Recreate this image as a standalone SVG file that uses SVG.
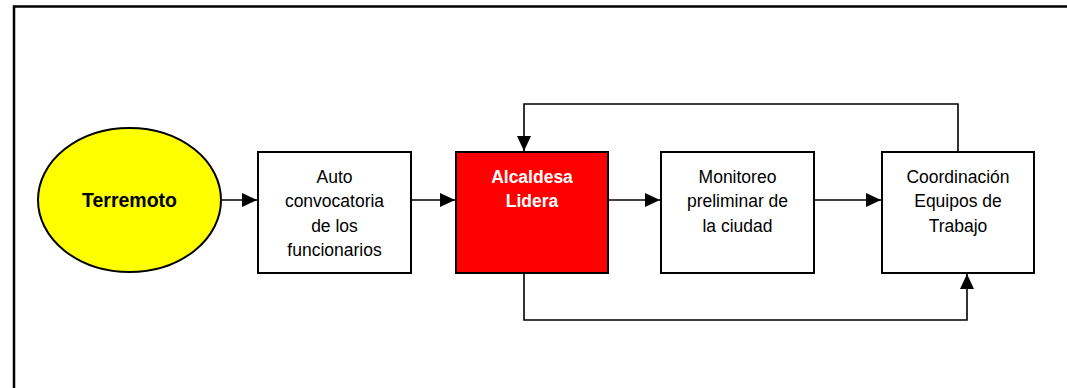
<svg xmlns="http://www.w3.org/2000/svg" width="1067" height="388" viewBox="0 0 1067 388">
<style>
.box{stroke:#000;stroke-width:2;fill:#fff}
.t{font-family:"Liberation Sans",Arial,sans-serif;font-size:17.5px;text-anchor:middle;fill:#000}
.b{font-weight:bold}
.c{fill:none;stroke:#000;stroke-width:1.6}
</style>
<defs>
<marker id="ah" markerUnits="userSpaceOnUse" markerWidth="16" markerHeight="16" viewBox="0 0 16 16" refX="15" refY="8" orient="auto">
<path d="M0,1 L15,8 L0,15 Z" fill="#000"/>
</marker>
</defs>
<rect width="1067" height="388" fill="#fff"/>
<path d="M14,389 V6.5 H1068" fill="none" stroke="#000" stroke-width="2.5"/>
<g id="connectors">
<line class="c" x1="221" y1="200" x2="257" y2="200" marker-end="url(#ah)"/>
<line class="c" x1="411" y1="200" x2="455" y2="200" marker-end="url(#ah)"/>
<line class="c" x1="608" y1="200" x2="660" y2="200" marker-end="url(#ah)"/>
<line class="c" x1="814" y1="200" x2="881" y2="200" marker-end="url(#ah)"/>
<path class="c" d="M958,152 V104 H524 V151" marker-end="url(#ah)"/>
<path class="c" d="M524,273 V320 H967 V274" marker-end="url(#ah)"/>
</g>
<g id="terremoto">
<ellipse cx="129.5" cy="200" rx="91.5" ry="72" fill="#ffff00" stroke="#000" stroke-width="2"/>
<text class="t b" x="129.5" y="207" style="font-size:19.5px">Terremoto</text>
</g>
<g id="auto">
<rect class="box" x="258" y="152" width="153" height="121"/>
<text class="t" x="334.5" y="183">Auto</text>
<text class="t" x="334.5" y="207">convocatoria</text>
<text class="t" x="334.5" y="231.5">de los</text>
<text class="t" x="334.5" y="255.5">funcionarios</text>
</g>
<g id="alcaldesa">
<rect class="box" x="456" y="152" width="152" height="121" style="fill:#ff0000"/>
<text class="t b" x="532" y="183" style="fill:#fff">Alcaldesa</text>
<text class="t b" x="532" y="207" style="fill:#fff">Lidera</text>
</g>
<g id="monitoreo">
<rect class="box" x="661" y="152" width="153" height="121"/>
<text class="t" x="737.5" y="183">Monitoreo</text>
<text class="t" x="737.5" y="207">preliminar de</text>
<text class="t" x="737.5" y="231.5">la ciudad</text>
</g>
<g id="coordinacion">
<rect class="box" x="882" y="152" width="152" height="121"/>
<text class="t" x="958" y="183">Coordinación</text>
<text class="t" x="958" y="207">Equipos de</text>
<text class="t" x="958" y="231.5">Trabajo</text>
</g>
</svg>
